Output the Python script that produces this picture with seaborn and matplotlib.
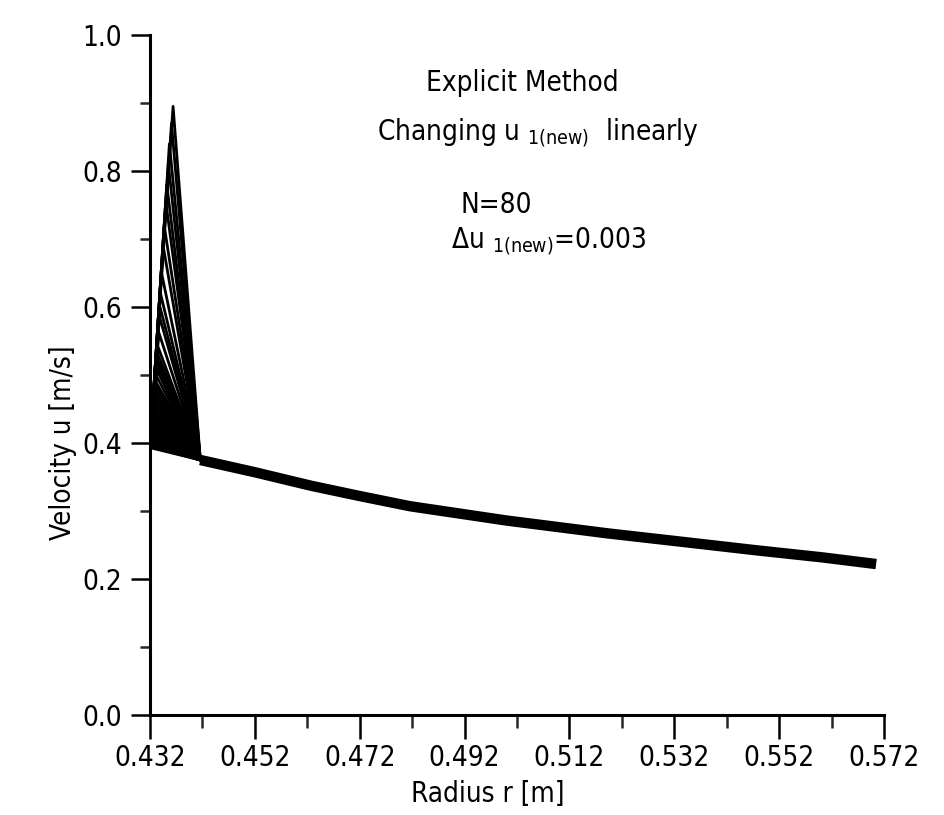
import numpy as np
import pandas as pd
import matplotlib
matplotlib.use("Agg")
import matplotlib.pyplot as plt
import seaborn as sns

# ---- data ----
# peak velocity of each profile (first interior node) and its radius
peak_u = [0.895, 0.870, 0.840, 0.810, 0.780, 0.755, 0.720, 0.690, 0.650, 0.620,
          0.600, 0.586, 0.562, 0.540, 0.530, 0.522, 0.515, 0.508, 0.499, 0.490,
          0.484, 0.478, 0.472, 0.467, 0.461, 0.456, 0.451, 0.447, 0.443, 0.440,
          0.437, 0.434, 0.431, 0.428, 0.425, 0.423, 0.420, 0.418, 0.416, 0.414,
          0.412, 0.410, 0.408, 0.407, 0.405, 0.404, 0.402, 0.401, 0.399, 0.397,
          0.395, 0.393]
peak_r = [0.4364, 0.4361, 0.4357, 0.4355, 0.4352, 0.4350, 0.4347, 0.4345, 0.4342, 0.4340,
          0.4339, 0.4338, 0.4337, 0.4336, 0.4335, 0.4334, 0.4334, 0.4333, 0.4332, 0.4331,
          0.4331, 0.4330, 0.4330, 0.4329, 0.4329, 0.4328, 0.4328, 0.4327, 0.4327, 0.4326,
          0.4326, 0.4325, 0.4325, 0.4325, 0.4324, 0.4324, 0.4324, 0.4324, 0.4323, 0.4323,
          0.4323, 0.4323, 0.4322, 0.4322, 0.4322, 0.4322, 0.4322, 0.4321, 0.4321, 0.4321,
          0.4321, 0.4321]
# inlet node (shared by all profiles)
inlet_r = 0.432
inlet_u = 0.392
# common tail (all profiles collapse onto it)
tail_r = [0.4416, 0.4520, 0.4628, 0.4720, 0.4816, 0.5000, 0.5194, 0.5320, 0.5479, 0.5600, 0.5705]
tail_u = [0.375, 0.357, 0.337, 0.322, 0.307, 0.286, 0.267, 0.256, 0.242, 0.232, 0.222]

x_ticks = [0.432, 0.452, 0.472, 0.492, 0.512, 0.532, 0.552, 0.572]
x_minor = [0.442, 0.462, 0.482, 0.502, 0.522, 0.542, 0.562]
y_ticks = [0.0, 0.2, 0.4, 0.6, 0.8, 1.0]
y_minor = [0.1, 0.3, 0.5, 0.7, 0.9]

title_lines = ["Explicit Method",
               r"Changing u $\mathregular{_{1(new)}}$  linearly",
               "N=80",
               r"$\mathregular{\Delta}$u $\mathregular{_{1(new)}}$=0.003"]

# ---- build long-form table ----
rows = []
for i, (pu, pr) in enumerate(zip(peak_u, peak_r)):
    rs = [inlet_r, pr, tail_r[0]]
    us = [inlet_u, pu, tail_u[0]]
    for k, (r, u) in enumerate(zip(rs, us)):
        rows.append({"curve": i, "order": k, "r": r, "u": u})
df = pd.DataFrame(rows)
tail_df = pd.DataFrame({"r": tail_r, "u": tail_u})

sns.set_style("ticks")
plt.rcParams["font.family"] = ["DejaVu Sans"]
plt.rcParams["font.stretch"] = "condensed"
plt.rcParams["mathtext.fontset"] = "dejavusans"

fig = plt.figure(figsize=(9.44, 8.15), dpi=100)
ax = fig.add_axes([150 / 944, 100 / 815, 734 / 944, 680 / 815])

sns.lineplot(data=df, x="r", y="u", units="curve", estimator=None, sort=False,
             color="black", linewidth=2.0, ax=ax, legend=False,
             solid_joinstyle="round")
sns.lineplot(data=tail_df, x="r", y="u", estimator=None, sort=False,
             color="black", linewidth=7.5, ax=ax, legend=False,
             solid_capstyle="butt", solid_joinstyle="round")

ax.set_xlim(0.432, 0.572)
ax.set_ylim(0.0, 1.0)
ax.set_xticks(x_ticks)
ax.set_xticklabels([f"{v:.3f}" for v in x_ticks])
ax.set_xticks(x_minor, minor=True)
ax.set_yticks(y_ticks)
ax.set_yticklabels([f"{v:.1f}" for v in y_ticks])
ax.set_yticks(y_minor, minor=True)

for s in ["top", "right"]:
    ax.spines[s].set_visible(False)
for s in ["left", "bottom"]:
    ax.spines[s].set_linewidth(2.2)
    ax.spines[s].set_color("black")

ax.tick_params(axis="x", which="major", direction="out", length=17, width=1.8,
               pad=4, labelsize=20, colors="black")
ax.tick_params(axis="x", which="minor", direction="out", length=9, width=1.8)
ax.tick_params(axis="y", which="major", direction="out", length=14, width=1.8,
               pad=6, labelsize=20, colors="black")
ax.tick_params(axis="y", which="minor", direction="out", length=7, width=1.8)

ax.set_xlabel("Radius r [m]", fontsize=20, color="black")
ax.set_ylabel("Velocity u [m/s]", fontsize=20, color="black")
ax.xaxis.set_label_coords(0.46, -0.095)
ax.yaxis.set_label_coords(-0.10, 0.40)

ty = [0.93, 0.856, 0.75, 0.697]
tx = [0.503, 0.506, 0.498, 0.508]
for t, x, y in zip(title_lines, tx, ty):
    ax.text(x, y, t, ha="center", va="center", fontsize=20, color="black")

ax.set_facecolor("white")
fig.patch.set_facecolor("white")
fig.savefig("out.png", dpi=100, facecolor="white")
